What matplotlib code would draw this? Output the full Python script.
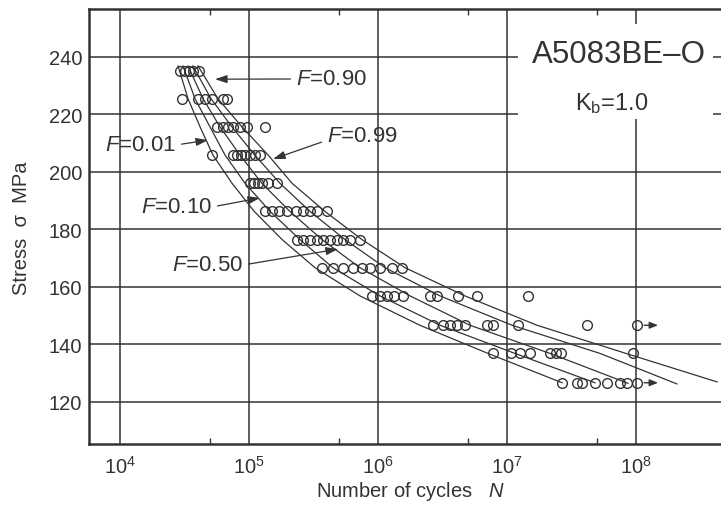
import numpy as np
import matplotlib
matplotlib.use('Agg')
import matplotlib.pyplot as plt
from matplotlib.patches import Rectangle
from matplotlib.ticker import FixedLocator, NullFormatter

plt.rcParams['font.family'] = ['Liberation Sans', 'DejaVu Sans']
plt.rcParams['mathtext.fontset'] = 'custom'
plt.rcParams['mathtext.rm'] = 'Liberation Sans'
plt.rcParams['mathtext.it'] = 'Liberation Sans:italic'
plt.rcParams['mathtext.default'] = 'regular'

INK = '#333333'

# ---------------- data ----------------
stress_levels = [235.2, 225.4, 215.6, 205.8, 196.0, 186.2, 176.4, 166.6, 156.8, 146.6, 136.8, 126.6]

n_235 = [2.92e4, 3.19e4, 3.43e4, 3.68e4, 4.10e4]
n_225 = [3.03e4, 4.03e4, 4.56e4, 5.18e4, 6.30e4, 6.76e4]
n_216 = [5.66e4, 6.30e4, 6.89e4, 7.53e4, 8.53e4, 9.66e4, 1.33e5]
n_206 = [5.18e4, 7.53e4, 8.09e4, 8.69e4, 9.33e4, 1.02e5, 1.11e5, 1.22e5]
n_196 = [1.02e5, 1.10e5, 1.18e5, 1.26e5, 1.41e5, 1.65e5]
n_186 = [1.33e5, 1.51e5, 1.71e5, 1.98e5, 2.32e5, 2.63e5, 2.98e5, 3.38e5, 4.04e5]
n_176 = [2.36e5, 2.63e5, 2.98e5, 3.38e5, 3.76e5, 4.26e5, 4.82e5, 5.37e5, 6.08e5, 7.28e5]
n_167 = [3.69e5, 4.49e5, 5.37e5, 6.43e5, 7.54e5, 8.69e5, 1.04e6, 1.29e6, 1.54e6]
n_157 = [9.02e5, 1.04e6, 1.18e6, 1.34e6, 1.57e6, 2.54e6, 2.88e6, 4.19e6, 5.89e6, 1.46e7]
n_147 = [2.68e6, 3.21e6, 3.63e6, 4.11e6, 4.74e6, 7.03e6, 7.83e6, 1.22e7, 4.20e7, 1.03e8]
n_137 = [7.83e6, 1.08e7, 1.27e7, 1.52e7, 2.17e7, 2.41e7, 2.64e7, 9.55e7]
n_127 = [2.69e7, 3.51e7, 3.84e7, 4.84e7, 6.00e7, 7.57e7, 8.57e7, 1.03e8]

runout_N = [1.03e8, 1.03e8]
runout_S = [146.6, 126.6]

# P-S-N curves (probability of failure F)
curve_S = [236.8, 225.4, 215.6, 205.8, 196.0, 186.2, 176.4, 166.6, 156.8, 146.6, 136.8]
curve_N_001 = [2.82e4, 3.37e4, 4.18e4, 5.26e4, 7.39e4, 1.10e5, 1.81e5, 3.26e5, 7.28e5, 2.12e6, 7.16e6, 2.69e7]
curve_N_010 = [3.08e4, 3.82e4, 4.99e4, 6.53e4, 9.33e4, 1.46e5, 2.49e5, 4.49e5, 1.04e6, 3.04e6, 1.16e7, 4.84e7]
curve_N_050 = [3.37e4, 4.41e4, 5.97e4, 8.53e4, 1.26e5, 2.08e5, 3.69e5, 7.28e5, 1.78e6, 5.19e6, 2.17e7, 8.73e7]
curve_N_090 = [3.68e4, 5.08e4, 7.39e4, 1.11e5, 1.74e5, 2.98e5, 5.57e5, 1.14e6, 3.04e6, 1.10e7, 5.30e7, 2.09e8]
curve_N_099 = [4.03e4, 5.75e4, 8.84e4, 1.41e5, 2.16e5, 3.89e5, 7.54e5, 1.63e6, 4.74e6, 1.72e7, 8.43e7, 4.28e8]
curve_end_S = [126.6, 126.6, 126.4, 126.2, 126.9]

x_ticks = [1e4, 1e5, 1e6, 1e7, 1e8]
x_ticklabels = ['$10^{4}$', '$10^{5}$', '$10^{6}$', '$10^{7}$', '$10^{8}$']
x_minor = [5e3, 5e4, 5e5, 5e6, 5e7, 5e8]
y_ticks = [120, 140, 160, 180, 200, 220, 240]

# ---------------- figure ----------------
W, H = 721, 506
fig = plt.figure(figsize=(W / 100, H / 100), dpi=100)
ax = fig.add_axes([89 / W, 1 - 445 / H, 1 - 89 / W, 435 / H])
ax.set_xscale('log')
ax.set_xlim(10 ** 3.7595, 10 ** 8.6625)
ax.set_ylim(105.3, 256.6)
ax.set_axisbelow(True)

ax.xaxis.set_major_locator(FixedLocator(x_ticks))
ax.set_xticklabels(x_ticklabels)
ax.xaxis.set_minor_locator(FixedLocator(x_minor))
ax.xaxis.set_minor_formatter(NullFormatter())
ax.set_yticks(y_ticks)
ax.yaxis.set_minor_locator(FixedLocator([]))

ax.grid(True, which='major', color=INK, linewidth=1.1)
ax.tick_params(axis='both', which='major', length=0, labelsize=14.5, colors=INK)
ax.tick_params(axis='x', which='major', pad=8)
ax.tick_params(axis='y', which='major', pad=5)
ax.tick_params(axis='x', which='minor', direction='in', length=4.5, width=1.0,
               top=True, bottom=True, color=INK)
for side in ['left', 'top', 'bottom']:
    ax.spines[side].set_linewidth(1.8)
    ax.spines[side].set_color(INK)
ax.spines['right'].set_visible(False)

# white panel behind title text
ax.add_patch(Rectangle((0.679, 0.747), 0.309, 0.219, transform=ax.transAxes,
                       facecolor='white', edgecolor='none', zorder=1.5))

# curves
curves = [curve_N_001, curve_N_010, curve_N_050, curve_N_090, curve_N_099]
for cN, endS in zip(curves, curve_end_S):
    ax.plot(cN, curve_S + [endS], color=INK, linewidth=0.9, zorder=2)

# data points
level_points = [n_235, n_225, n_216, n_206, n_196, n_186, n_176, n_167,
                n_157, n_147, n_137, n_127]
for s, ns in zip(stress_levels, level_points):
    ax.plot(ns, [s] * len(ns), linestyle='none', marker='o', markersize=7,
            markerfacecolor='none', markeredgecolor=INK, markeredgewidth=1.0, zorder=3)

# run-out arrows
for n, s in zip(runout_N, runout_S):
    ax.annotate('', xy=(n * 1.45, s), xytext=(n * 1.13, s),
                arrowprops=dict(arrowstyle='-|>,head_length=0.5,head_width=0.2',
                                color=INK, lw=1.0, shrinkA=0, shrinkB=0), zorder=3)

# F labels with arrows (text positions in figure pixels)
lab_kw = dict(textcoords='figure pixels', fontsize=16, color=INK, va='center')
arr = dict(arrowstyle='-|>,head_length=0.45,head_width=0.15', color=INK, lw=0.9,
           shrinkA=2, shrinkB=0)
ax.annotate('$\\it{F}$=0.90', xy=(5.46e4, 232.2), xytext=(296, 426), ha='left',
            arrowprops=dict(arr, relpos=(0, 0.5)), **lab_kw)
ax.annotate('$\\it{F}$=0.01', xy=(4.82e4, 211.0), xytext=(176, 360), ha='right',
            arrowprops=dict(arr, relpos=(1, 0.5)), **lab_kw)
ax.annotate('$\\it{F}$=0.99', xy=(1.54e5, 204.4), xytext=(327, 369), ha='left',
            arrowprops=dict(arr, relpos=(0, 0.3)), **lab_kw)
ax.annotate('$\\it{F}$=0.10', xy=(1.22e5, 190.9), xytext=(212, 298), ha='right',
            arrowprops=dict(arr, relpos=(1, 0.5)), **lab_kw)
ax.annotate('$\\it{F}$=0.50', xy=(4.91e5, 173.1), xytext=(243, 240), ha='right',
            arrowprops=dict(arr, relpos=(1, 0.5)), **lab_kw)

# title texts
fig.text(619 / W, 1 - 55 / H, 'A5083BE\u2013O', fontsize=22.5, color=INK,
         ha='center', va='center')
fig.text(612 / W, 1 - 104 / H, 'K$_{b}$=1.0', fontsize=17, color=INK,
         ha='center', va='center')

# axis labels
fig.text(22 / W, 1 - 228 / H, 'Stress  \u03c3  MPa', rotation=90, fontsize=14.5,
         color=INK, ha='center', va='center')
fig.text(410 / W, 1 - 492 / H, 'Number of cycles   $\\it{N}$', fontsize=14.5,
         color=INK, ha='center', va='center')

fig.savefig('out.png', dpi=100, facecolor='white')
